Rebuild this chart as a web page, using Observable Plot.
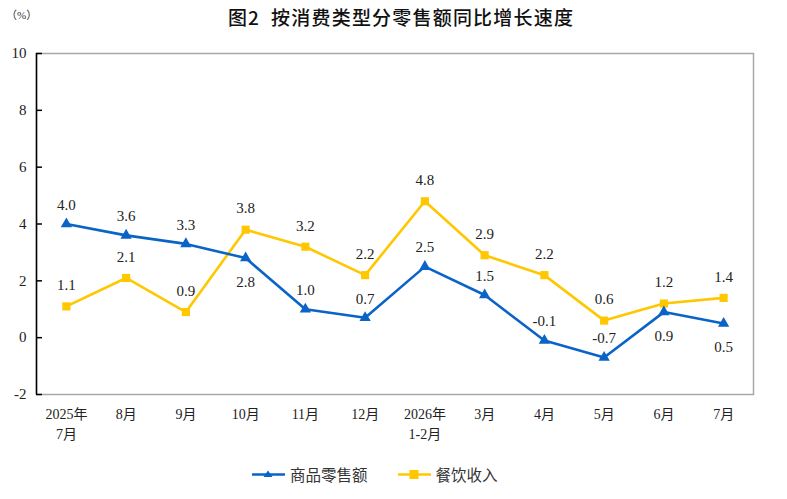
<!DOCTYPE html>
<html>
<head>
<meta charset="utf-8">
<script src="https://cdn.jsdelivr.net/npm/d3@7"></script>
<script src="https://cdn.jsdelivr.net/npm/@observablehq/plot@0.6"></script>
<style>
  html, body { margin: 0; padding: 0; background: #fff; }
  #wrap { position: relative; width: 787px; height: 499px; overflow: hidden; }
  #title { position: absolute; top: 3px; left: 0; width: 802px; text-align: center;
           font-family: "Noto Sans CJK SC", sans-serif; font-weight: 500; font-size: 19px; letter-spacing: 1.2px; color: #111; }
  #unit { position: absolute; top: 6px; left: 6px; font-family: "Liberation Serif", "Noto Sans CJK SC", serif;
          font-size: 11px; color: #333; }
  #legend { position: absolute; top: 463px; left: 252px; display: flex; align-items: center;
            font-family: "Noto Sans CJK SC", serif; font-size: 15.5px; color: #333; }
  .item { display: flex; align-items: center; }
  .item svg { margin-right: 5px; }
</style>
</head>
<body>
<div id="wrap">
  <div id="title">图2&nbsp;&nbsp;按消费类型分零售额同比增长速度</div>
  <div id="unit">（%）</div>
  <div id="chart"></div>
  <div id="legend"></div>
</div>
<script>
const categories = ["2025年\n7月", "8月", "9月", "10月", "11月", "12月", "2026年\n1-2月", "3月", "4月", "5月", "6月", "7月"];
const goodsRetail = [4.0, 3.6, 3.3, 2.8, 1.0, 0.7, 2.5, 1.5, -0.1, -0.7, 0.9, 0.5];
const cateringRevenue = [1.1, 2.1, 0.9, 3.8, 3.2, 2.2, 4.8, 2.9, 2.2, 0.6, 1.2, 1.4];
const goodsLabelBelow = ["10月", "6月", "7月"];
const yTicks = [-2, 0, 2, 4, 6, 8, 10];
const seriesNames = ["商品零售额", "餐饮收入"];

const BLUE = "#0a64c8";
const YELLOW = "#ffc700";
const FONT = "'Liberation Serif','Noto Sans CJK SC',serif";

const goodsRows = goodsRetail.map((v, i) => ({i, v, cat: categories[i], below: goodsLabelBelow.includes(categories[i])}));
const cateringRows = cateringRevenue.map((v, i) => ({i, v, cat: categories[i]}));

const fmt = v => v.toFixed(1);

const chart = Plot.plot({
  width: 787,
  height: 499,
  marginLeft: 36,
  marginRight: 34,
  marginTop: 53,
  marginBottom: 105,
  style: {fontFamily: FONT, fontSize: "14px", color: "#222", background: "white"},
  x: {type: "linear", domain: [-0.5, categories.length - 0.5], axis: null},
  y: {domain: [-2, 10], axis: null},
  marks: [
    Plot.frame({stroke: "#a8a8a8", strokeWidth: 1.5}),
    Plot.ruleX([-0.5], {stroke: "#000", strokeWidth: 1.5}),
    Plot.ruleY(yTicks, {y: d => d, x1: () => -0.5, x2: () => -0.4, stroke: "#000", strokeWidth: 1.5}),
    Plot.axisY(yTicks, {anchor: "left", tickSize: 0, tickPadding: 10, fontSize: 15, fontFamily: FONT, tickFormat: d => String(d), label: null}),
    Plot.axisX(d3.range(categories.length), {anchor: "bottom", tickSize: 0, tickPadding: 11, tickFormat: i => categories[i], lineHeight: 1.4, fontSize: 14, fontFamily: FONT, label: null}),
    Plot.line(cateringRows, {x: "i", y: "v", stroke: YELLOW, strokeWidth: 2.6}),
    Plot.line(goodsRows, {x: "i", y: "v", stroke: BLUE, strokeWidth: 2.6}),
    Plot.dot(cateringRows, {x: "i", y: "v", symbol: "square", r: 4.6, fill: YELLOW, stroke: "none"}),
    Plot.dot(goodsRows, {x: "i", y: "v", symbol: "triangle", r: 4.2, fill: BLUE, stroke: "none"}),
    Plot.text(cateringRows, {x: "i", y: "v", text: d => fmt(d.v), dy: -21, fill: "#222", fontSize: 15}),
    Plot.text(goodsRows.filter(d => !d.below), {x: "i", y: "v", text: d => fmt(d.v), dy: -19, fill: "#222", fontSize: 15}),
    Plot.text(goodsRows.filter(d => d.below), {x: "i", y: "v", text: d => fmt(d.v), dy: 24, fill: "#222", fontSize: 15})
  ]
});
document.getElementById("chart").appendChild(chart);

const legend = document.getElementById("legend");
const colors = [BLUE, YELLOW];
const shapes = [
  c => `<polygon points="16,1.5 20.5,8 11.5,8" fill="${c}"/>`,
  c => `<rect x="11.5" y="1" width="9" height="9" fill="${c}"/>`
];
seriesNames.forEach((name, k) => {
  const item = document.createElement("div");
  item.className = "item";
  item.style.marginRight = k === 0 ? "30px" : "0";
  item.innerHTML = `<svg width="33" height="11"><line x1="0" x2="33" y1="5.5" y2="5.5" stroke="${colors[k]}" stroke-width="2.6"/>${shapes[k](colors[k])}</svg><span>${name}</span>`;
  legend.appendChild(item);
});
</script>
</body>
</html>
